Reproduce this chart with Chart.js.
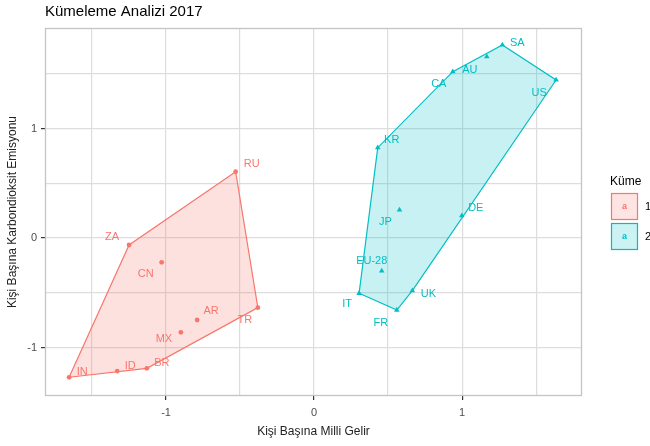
<!DOCTYPE html>
<html>
<head>
<meta charset="utf-8">
<script src="https://cdn.jsdelivr.net/npm/chart.js@4/dist/chart.umd.min.js"></script>
<style>
  html, body { margin: 0; padding: 0; background: #fff; }
  #wrap { width: 650px; height: 446px; position: relative; }
</style>
</head>
<body>
<div id="wrap"><canvas id="chart"></canvas></div>
<script>
// cluster 1
const names1 = ['RU', 'ZA', 'CN', 'TR', 'AR', 'MX', 'BR', 'ID', 'IN'];
const gdp1 = [-0.53, -1.25, -1.03, -0.38, -0.79, -0.90, -1.13, -1.33, -1.655];
const co21 = [0.605, -0.064, -0.222, -0.636, -0.749, -0.861, -1.19, -1.215, -1.272];

// cluster 2
const names2 = ['SA', 'AU', 'CA', 'US', 'KR', 'JP', 'DE', 'EU-28', 'UK', 'IT', 'FR'];
const gdp2 = [1.272, 1.167, 0.937, 1.635, 0.43, 0.577, 0.998, 0.457, 0.664, 0.304, 0.559];
const co22 = [1.763, 1.656, 1.519, 1.443, 0.825, 0.256, 0.204, -0.301, -0.481, -0.505, -0.658];

const clusterNames = ['1', '2'];
const xTicks = [-1, 0, 1];
const yTicks = [-1, 0, 1];

const red = '#F8766D';
const cyan = '#00BFC4';

// label offsets in px (label placement only)
const labelOffsets = {
  RU: [16, -8], ZA: [-17, -8], CN: [-16, 12], TR: [-13, 12], AR: [14, -9],
  MX: [-17, 7], BR: [15, -5], ID: [13, -5], IN: [13, -5],
  SA: [15, -2], AU: [-17, 13], CA: [-14, 12], US: [-17, 13], KR: [14, -8],
  JP: [-14, 12], DE: [14, -8], 'EU-28': [-10, -10], UK: [16, 3], IT: [-12, 11], FR: [-16, 13]
};

function toPoints(xs, ys) {
  return xs.map((x, i) => ({ x: x, y: ys[i] }));
}

// convex hull, monotone chain
function hull(pts) {
  const p = pts.slice().sort((a, b) => a.x - b.x || a.y - b.y);
  const cross = (o, a, b) => (a.x - o.x) * (b.y - o.y) - (a.y - o.y) * (b.x - o.x);
  const lower = [];
  p.forEach(pt => {
    while (lower.length >= 2 && cross(lower[lower.length - 2], lower[lower.length - 1], pt) <= 0) lower.pop();
    lower.push(pt);
  });
  const upper = [];
  p.slice().reverse().forEach(pt => {
    while (upper.length >= 2 && cross(upper[upper.length - 2], upper[upper.length - 1], pt) <= 0) upper.pop();
    upper.push(pt);
  });
  const h = lower.slice(0, -1).concat(upper.slice(0, -1));
  h.push(h[0]);
  return h;
}

const pts1 = toPoints(gdp1, co21);
const pts2 = toPoints(gdp2, co22);

const font = "'Liberation Sans', Arial, sans-serif";

const decorPlugin = {
  id: 'decor',
  afterDatasetsDraw(chart) {
    const ctx = chart.ctx;
    const a = chart.chartArea;
    const xs = chart.scales.x, ys = chart.scales.y;
    ctx.save();
    // labels
    ctx.font = '11px ' + font;
    ctx.textAlign = 'center';
    ctx.textBaseline = 'middle';
    [[names1, pts1, red], [names2, pts2, cyan]].forEach(([names, pts, col]) => {
      ctx.fillStyle = col;
      names.forEach((n, i) => {
        const off = labelOffsets[n] || [0, 0];
        ctx.fillText(n, xs.getPixelForValue(pts[i].x) + off[0], ys.getPixelForValue(pts[i].y) + off[1]);
      });
    });
    // panel border
    ctx.strokeStyle = '#C4C4C4';
    ctx.lineWidth = 1.3;
    ctx.strokeRect(a.left + 0.5, a.top + 0.5, a.right - a.left - 1, a.bottom - a.top - 1);
    ctx.restore();
  },
  afterDraw(chart) {
    const ctx = chart.ctx;
    const a = chart.chartArea;
    ctx.save();
    // title
    ctx.fillStyle = '#000';
    ctx.font = '15px ' + font;
    ctx.textAlign = 'left';
    ctx.textBaseline = 'middle';
    ctx.fillText('Kümeleme Analizi 2017', a.left, 12);
    // axis titles
    ctx.font = '12px ' + font;
    ctx.fillStyle = '#222';
    ctx.textAlign = 'center';
    ctx.fillText('Kişi Başına Milli Gelir', (a.left + a.right) / 2, 432);
    ctx.translate(13, (a.top + a.bottom) / 2);
    ctx.rotate(-Math.PI / 2);
    ctx.fillText('Kişi Başına Karbondioksit Emisyonu', 0, 0);
    ctx.restore();
    // legend
    ctx.save();
    ctx.font = '12px ' + font;
    ctx.fillStyle = '#000';
    ctx.textBaseline = 'middle';
    ctx.fillText('Küme', 610, 182);
    [[red, 'rgba(248,118,109,0.2)'], [cyan, 'rgba(0,191,196,0.2)']].forEach(([c, f], i) => {
      const y = 193 + i * 30;
      ctx.fillStyle = f;
      ctx.fillRect(611, y, 27, 27);
      ctx.strokeStyle = c;
      ctx.lineWidth = 1.2;
      ctx.strokeRect(611.5, y + 0.5, 26, 26);
      ctx.fillStyle = c;
      ctx.font = 'bold 9px ' + font;
      ctx.textAlign = 'center';
      ctx.fillText('a', 624.5, y + 14);
      ctx.font = '11px ' + font;
      ctx.textAlign = 'left';
      ctx.fillStyle = '#000';
      ctx.fillText(clusterNames[i], 645, y + 14);
    });
    ctx.restore();
  }
};

const gridColor = '#DDDDDD';

new Chart(document.getElementById('chart'), {
  type: 'scatter',
  data: {
    datasets: [
      {
        data: hull(pts1), showLine: true, fill: 'shape',
        borderColor: red, borderWidth: 1.2, backgroundColor: 'rgba(248,118,109,0.22)',
        pointRadius: 0, order: 3, tension: 0
      },
      {
        data: hull(pts2), showLine: true, fill: 'shape',
        borderColor: cyan, borderWidth: 1.2, backgroundColor: 'rgba(0,191,196,0.22)',
        pointRadius: 0, order: 3, tension: 0
      },
      {
        data: pts1, pointStyle: 'circle', pointRadius: 2.4,
        backgroundColor: red, borderColor: red, borderWidth: 0, order: 1
      },
      {
        data: pts2, pointStyle: 'triangle', pointRadius: 3.2,
        backgroundColor: cyan, borderColor: cyan, borderWidth: 0, order: 1
      }
    ]
  },
  options: {
    responsive: true,
    maintainAspectRatio: false,
    animation: false,
    layout: { padding: { top: 28, right: 68, bottom: 0, left: 0 } },
    plugins: { legend: { display: false }, tooltip: { enabled: false } },
    scales: {
      x: {
        type: 'linear', min: -1.818, max: 1.81,
        afterBuildTicks(s) {
          s.ticks = [-1.5, -1, -0.5, 0, 0.5, 1, 1.5].map(v => ({ value: v }));
        },
        afterFit(s) { s.height = 50; },
        grid: {
          color: gridColor, lineWidth: 1.2, drawTicks: true, tickLength: 4,
          tickColor: c => xTicks.includes(c.tick.value) ? '#333' : 'rgba(0,0,0,0)'
        },
        border: { display: false },
        ticks: {
          color: '#4D4D4D', font: { size: 11, family: font }, padding: 6, maxRotation: 0,
          callback: v => xTicks.includes(v) ? String(v) : ''
        }
      },
      y: {
        type: 'linear', min: -1.443, max: 1.918,
        afterBuildTicks(s) {
          s.ticks = [-1, -0.5, 0, 0.5, 1, 1.5].map(v => ({ value: v }));
        },
        afterFit(s) { s.width = 45; },
        grid: {
          color: gridColor, lineWidth: 1.2, drawTicks: true, tickLength: 4,
          tickColor: c => yTicks.includes(c.tick.value) ? '#333' : 'rgba(0,0,0,0)'
        },
        border: { display: false },
        ticks: {
          color: '#4D4D4D', font: { size: 11, family: font }, padding: 4,
          callback: v => yTicks.includes(v) ? String(v) : ''
        }
      }
    }
  },
  plugins: [decorPlugin]
});
</script>
</body>
</html>
